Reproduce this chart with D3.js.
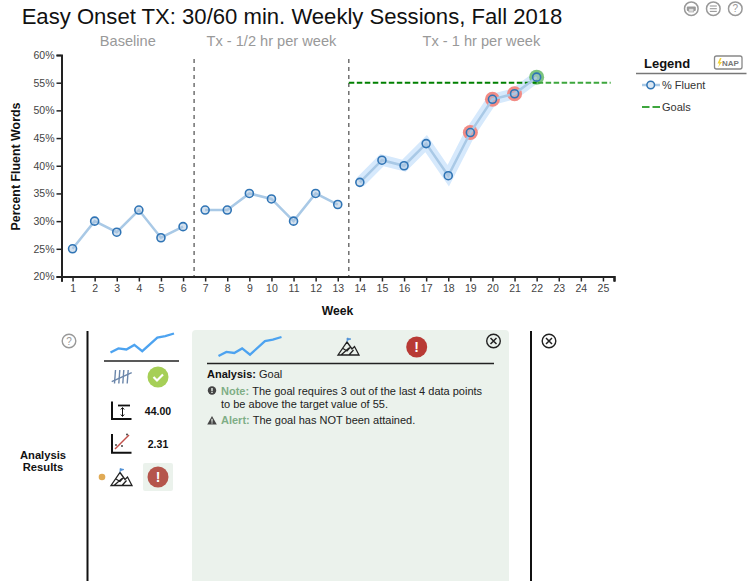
<!DOCTYPE html>
<html>
<head>
<meta charset="utf-8">
<script src="https://cdn.jsdelivr.net/npm/d3@7"></script>
<style>
  html, body { margin: 0; padding: 0; background: #fff; overflow: hidden; }
  svg { display: block; font-family: "Liberation Sans", Arial, sans-serif; }
</style>
</head>
<body>
<div id="chart"></div>
<script>
const weeks = d3.range(1, 26);
const yTicks = [20, 25, 30, 35, 40, 45, 50, 55, 60];

const baseline = [[1, 25], [2, 30], [3, 28], [4, 32], [5, 27], [6, 29]];
const halfHour = [[7, 32], [8, 32], [9, 35], [10, 34], [11, 30], [12, 35], [13, 33]];
const oneHour = [[14, 37], [15, 41], [16, 40], [17, 44], [18, 38.2], [19, 46], [20, 52], [21, 53], [22, 56]];

const goalMet = [22];
const goalMissed = [19, 20, 21];
const goalValue = 55;
const goalStart = 13.5;
const goalMid = 22;
const goalEnd = 25.35;

const phaseLines = [6.5, 13.5];
const phases = [
  { label: 'Baseline', week: 3.5 },
  { label: 'Tx - 1/2 hr per week', week: 10 },
  { label: 'Tx - 1 hr per week', week: 19.5 }
];

// little trend picture used in the analysis panel
const sparkline = [[0, 0], [1, 3], [2, 2.2], [3, 5.6], [4, 1], [5.9, 11], [6.9, 12], [8, 14]];

const svg = d3.select('#chart').append('svg')
  .attr('width', 752)
  .attr('height', 581);

const x = d3.scaleLinear().domain([0.5, 25.5]).range([61.5, 614]);
const y = d3.scaleLinear().domain([20, 60]).range([276.5, 55]);

const line = d3.line().x(d => x(d[0])).y(d => y(d[1]));

// title
svg.append('text')
  .attr('x', 292).attr('y', 24)
  .attr('text-anchor', 'middle')
  .attr('font-size', 22.1)
  .attr('fill', '#111')
  .text('Easy Onset TX: 30/60 min. Weekly Sessions, Fall 2018');

svg.selectAll('.phase-label').data(phases)
  .join('text')
  .attr('class', 'phase-label')
  .attr('x', d => x(d.week))
  .attr('y', 45.5)
  .attr('text-anchor', 'middle')
  .attr('font-size', 14.6)
  .attr('fill', '#999')
  .text(d => d.label);

// axes
const xAxis = svg.append('g')
  .attr('transform', 'translate(0,276.5)')
  .call(d3.axisBottom(x).tickValues(weeks).tickSize(5).tickPadding(3).tickFormat(d3.format('d')));
const xEnds = svg.append('g')
  .attr('transform', 'translate(0,276.5)')
  .call(d3.axisBottom(x).tickValues([0.5, 25.5]).tickSize(5).tickFormat(''));
const yAxis = svg.append('g')
  .attr('transform', 'translate(61.5,0)')
  .call(d3.axisLeft(y).tickValues(yTicks).tickSize(5).tickPadding(2).tickFormat(d => d + '%'));

[xAxis, xEnds, yAxis].forEach(a => {
  a.select('.domain').attr('stroke', '#222').attr('stroke-width', 2);
  a.selectAll('.tick line').attr('stroke', '#222').attr('stroke-width', 1.5);
  a.selectAll('text').attr('font-size', 10.5).attr('fill', '#444')
    .attr('font-family', '"Liberation Sans", Arial, sans-serif');
});

svg.append('text')
  .attr('transform', 'translate(20,166.5) rotate(-90)')
  .attr('text-anchor', 'middle')
  .attr('font-size', 12.4)
  .attr('font-weight', 'bold')
  .attr('fill', '#111')
  .text('Percent Fluent Words');

svg.append('text')
  .attr('x', 337.5).attr('y', 315)
  .attr('text-anchor', 'middle')
  .attr('font-size', 12.2)
  .attr('font-weight', 'bold')
  .attr('fill', '#111')
  .text('Week');

// phase change lines
svg.selectAll('.phase-line').data(phaseLines)
  .join('line')
  .attr('class', 'phase-line')
  .attr('x1', d => x(d)).attr('x2', d => x(d))
  .attr('y1', 59).attr('y2', 276)
  .attr('stroke', '#666')
  .attr('stroke-width', 1.4)
  .attr('stroke-dasharray', '4 4');

// highlighted stretch under the last phase
svg.append('path')
  .datum(oneHour)
  .attr('d', line)
  .attr('fill', 'none')
  .attr('stroke', '#d6e9fc')
  .attr('stroke-width', 11);

// goal halos go under the goal line
svg.selectAll('.halo-miss').data(oneHour.filter(d => goalMissed.includes(d[0])))
  .join('circle')
  .attr('class', 'halo-miss')
  .attr('cx', d => x(d[0])).attr('cy', d => y(d[1]))
  .attr('r', 7.5)
  .attr('fill', '#f28b85');
svg.selectAll('.halo-met').data(oneHour.filter(d => goalMet.includes(d[0])))
  .join('circle')
  .attr('class', 'halo-met')
  .attr('cx', d => x(d[0])).attr('cy', d => y(d[1]))
  .attr('r', 7.5)
  .attr('fill', '#7cc47e');

// goal line, darker up to the last session
svg.append('line')
  .attr('x1', x(goalStart)).attr('x2', x(goalMid))
  .attr('y1', y(goalValue)).attr('y2', y(goalValue))
  .attr('stroke', '#008000')
  .attr('stroke-width', 2)
  .attr('stroke-dasharray', '5.5 2.5');
svg.append('line')
  .attr('x1', x(goalMid) + 1).attr('x2', x(goalEnd))
  .attr('y1', y(goalValue)).attr('y2', y(goalValue))
  .attr('stroke', '#3da63d')
  .attr('stroke-width', 2)
  .attr('stroke-dasharray', '5.5 2.5');

// data lines and points
[baseline, halfHour, oneHour].forEach(s => {
  svg.append('path')
    .datum(s)
    .attr('d', line)
    .attr('fill', 'none')
    .attr('stroke', '#a9c9e6')
    .attr('stroke-width', 2.5);
  svg.selectAll(null).data(s)
    .join('circle')
    .attr('cx', d => x(d[0])).attr('cy', d => y(d[1]))
    .attr('r', 4)
    .attr('fill', '#a9c4de')
    .attr('fill-opacity', 0.5)
    .attr('stroke', '#2f74b5')
    .attr('stroke-width', 1.6);
});

// toolbar icons, top right
function circleIcon(cx, cy, label, fill) {
  svg.append('circle')
    .attr('cx', cx).attr('cy', cy).attr('r', 6.8)
    .attr('fill', 'none').attr('stroke', '#999').attr('stroke-width', 1.5);
  if (label) {
    svg.append('text')
      .attr('x', cx).attr('y', cy + 3.5)
      .attr('text-anchor', 'middle')
      .attr('font-size', 10)
      .attr('fill', fill)
      .text(label);
  }
}
circleIcon(691.3, 8.7, null);
svg.append('rect').attr('x', 686.8).attr('y', 6.5).attr('width', 9).attr('height', 4.5)
  .attr('rx', 1).attr('fill', '#999');
svg.append('rect').attr('x', 688.8).attr('y', 8.5).attr('width', 5).attr('height', 3.5)
  .attr('fill', '#ddd').attr('stroke', '#999').attr('stroke-width', 0.6);
circleIcon(713.3, 8.7, null);
[6, 8.7, 11.4].forEach(d => {
  svg.append('line').attr('x1', 709.8).attr('x2', 716.8).attr('y1', d).attr('y2', d)
    .attr('stroke', '#999').attr('stroke-width', 1.1);
});
circleIcon(735.3, 8.7, '?', '#999');

// legend
svg.append('text')
  .attr('x', 644).attr('y', 67.5)
  .attr('font-size', 13).attr('font-weight', 'bold').attr('fill', '#111')
  .text('Legend');
svg.append('rect')
  .attr('x', 714.5).attr('y', 56)
  .attr('width', 27.5).attr('height', 13).attr('rx', 2)
  .attr('fill', '#fff').attr('stroke', '#888').attr('stroke-width', 1.3);
svg.append('path')
  .attr('d', 'M720 58 L717.5 63.5 L719.5 63.5 L718 67.5 L722 62 L720 62 L721.5 58 Z')
  .attr('fill', '#f2d43a');
svg.append('text')
  .attr('x', 722).attr('y', 66)
  .attr('font-size', 8).attr('font-weight', 'bold').attr('fill', '#777')
  .text('NAP');
svg.append('line')
  .attr('x1', 636).attr('x2', 746.5).attr('y1', 73.5).attr('y2', 73.5)
  .attr('stroke', '#777').attr('stroke-width', 1.3);

svg.append('line')
  .attr('x1', 642).attr('x2', 660).attr('y1', 85).attr('y2', 85)
  .attr('stroke', '#a9c9e6').attr('stroke-width', 2.5);
svg.append('circle')
  .attr('cx', 650.7).attr('cy', 85).attr('r', 3.8)
  .attr('fill', '#dbe7f2').attr('stroke', '#2f74b5').attr('stroke-width', 1.5);
svg.append('text')
  .attr('x', 662).attr('y', 89)
  .attr('font-size', 11).attr('fill', '#333')
  .text('% Fluent');
svg.append('line')
  .attr('x1', 642).attr('x2', 660).attr('y1', 107).attr('y2', 107)
  .attr('stroke', '#3da63d').attr('stroke-width', 2)
  .attr('stroke-dasharray', '7.5 3');
svg.append('text')
  .attr('x', 662).attr('y', 111)
  .attr('font-size', 11).attr('fill', '#333')
  .text('Goals');

// analysis section
function helpIcon(cx, cy) {
  svg.append('circle')
    .attr('cx', cx).attr('cy', cy).attr('r', 6.8)
    .attr('fill', 'none').attr('stroke', '#999').attr('stroke-width', 1.4);
  svg.append('text')
    .attr('x', cx).attr('y', cy + 3.5)
    .attr('text-anchor', 'middle')
    .attr('font-size', 10).attr('fill', '#999')
    .text('?');
}
helpIcon(69, 341);

svg.selectAll('.section-title').data(['Analysis', 'Results'])
  .join('text')
  .attr('class', 'section-title')
  .attr('x', 43)
  .attr('y', (d, i) => 459 + i * 12)
  .attr('text-anchor', 'middle')
  .attr('font-size', 11.2)
  .attr('font-weight', 'bold')
  .attr('fill', '#111')
  .text(d => d);

[87.5, 531].forEach(d => {
  svg.append('line')
    .attr('x1', d).attr('x2', d).attr('y1', 331).attr('y2', 581)
    .attr('stroke', '#111').attr('stroke-width', 2);
});

svg.append('path')
  .attr('d', 'M192 581 V334 Q192 330 196 330 H505 Q509 330 509 334 V581 Z')
  .attr('fill', '#ebf2ec');

function drawSpark(x0, x1, y0, y1) {
  const sx = d3.scaleLinear().domain([0, 8]).range([x0, x1]);
  const sy = d3.scaleLinear().domain([0, 14]).range([y0, y1]);
  svg.append('path')
    .datum(sparkline)
    .attr('d', d3.line().x(d => sx(d[0])).y(d => sy(d[1])))
    .attr('fill', 'none')
    .attr('stroke', '#4da3f0')
    .attr('stroke-width', 2.3);
}
drawSpark(110.5, 174, 352.5, 333.5);
drawSpark(218.5, 281.5, 356, 337);

svg.append('line').attr('x1', 104).attr('x2', 179).attr('y1', 361).attr('y2', 361)
  .attr('stroke', '#222').attr('stroke-width', 1.5);
svg.append('line').attr('x1', 207).attr('x2', 494).attr('y1', 363.5).attr('y2', 363.5)
  .attr('stroke', '#222').attr('stroke-width', 1.5);

// tally marks
[115, 119.3, 123.3, 127.7].forEach(d => {
  svg.append('line').attr('x1', d + 0.5).attr('x2', d - 0.5).attr('y1', 370).attr('y2', 383.5)
    .attr('stroke', '#6b86aa').attr('stroke-width', 1.4);
});
svg.append('line').attr('x1', 111.7).attr('x2', 131.7).attr('y1', 381.7).attr('y2', 372.7)
  .attr('stroke', '#6b86aa').attr('stroke-width', 1.4);

// check badge
svg.append('circle').attr('cx', 158).attr('cy', 377).attr('r', 10.5).attr('fill', '#a6cf57');
svg.append('path')
  .attr('d', 'M153.5 377 L157 380.5 L163 374.5')
  .attr('fill', 'none').attr('stroke', '#fff').attr('stroke-width', 2.2);

// level icon
svg.append('path')
  .attr('d', 'M112 401.5 V419 H131.5')
  .attr('fill', 'none').attr('stroke', '#111').attr('stroke-width', 2);
svg.append('path')
  .attr('d', 'M118 405.5 H130')
  .attr('fill', 'none').attr('stroke', '#111').attr('stroke-width', 1.8);
svg.append('path')
  .attr('d', 'M122.5 408 V416 M120.8 409.5 L122.5 407.5 L124.2 409.5 M120.8 414.5 L122.5 416.5 L124.2 414.5')
  .attr('fill', 'none').attr('stroke', '#111').attr('stroke-width', 1);
svg.append('text')
  .attr('x', 158).attr('y', 415)
  .attr('text-anchor', 'middle')
  .attr('font-size', 10.5).attr('font-weight', 'bold').attr('fill', '#111')
  .text('44.00');

// trend icon
svg.append('path')
  .attr('d', 'M112 434 V452.7 H131.5')
  .attr('fill', 'none').attr('stroke', '#111').attr('stroke-width', 2);
svg.append('line').attr('x1', 115).attr('x2', 129).attr('y1', 449).attr('y2', 435)
  .attr('stroke', '#c2504a').attr('stroke-width', 1.5);
svg.append('circle').attr('cx', 116).attr('cy', 445).attr('r', 0.9).attr('fill', '#333');
svg.append('circle').attr('cx', 122).attr('cy', 446).attr('r', 0.9).attr('fill', '#333');
svg.append('circle').attr('cx', 127).attr('cy', 434.5).attr('r', 0.9).attr('fill', '#333');
svg.append('text')
  .attr('x', 158).attr('y', 448)
  .attr('text-anchor', 'middle')
  .attr('font-size', 10.5).attr('font-weight', 'bold').attr('fill', '#111')
  .text('2.31');

// goal row
function mountain(ox, oy) {
  const g = svg.append('g').attr('transform', `translate(${ox},${oy})`);
  g.append('path')
    .attr('d', 'M0 16 L9 3 L14 10 L16.5 7.5 L21 16 Z M5 9.5 L9 12 L12 8.5 M3 16 L11 9 M11 16 L15.5 11')
    .attr('fill', 'none').attr('stroke', '#222').attr('stroke-width', 1.3);
  g.append('path').attr('d', 'M9 3 V-1 L13 0 L9 1.5').attr('fill', '#4d8fd6').attr('stroke', '#4d8fd6').attr('stroke-width', 0.7);
}
svg.append('circle').attr('cx', 102).attr('cy', 477).attr('r', 3.3).attr('fill', '#e0aa55');
mountain(111, 469.5);
svg.append('rect').attr('x', 143).attr('y', 463).attr('width', 30).attr('height', 28)
  .attr('rx', 2).attr('fill', '#ebf2ec');

function alertBadge(cx, cy, color) {
  svg.append('circle').attr('cx', cx).attr('cy', cy).attr('r', 10.5).attr('fill', color);
  svg.append('text')
    .attr('x', cx).attr('y', cy + 5)
    .attr('text-anchor', 'middle')
    .attr('font-size', 14).attr('font-weight', 'bold').attr('fill', '#fff')
    .text('!');
}
alertBadge(158, 477, '#b5554c');
alertBadge(416.7, 347, '#b83a35');
mountain(338, 339);

function closeIcon(cx, cy) {
  svg.append('circle').attr('cx', cx).attr('cy', cy).attr('r', 6.8)
    .attr('fill', 'none').attr('stroke', '#222').attr('stroke-width', 1.4);
  svg.append('path')
    .attr('d', `M${cx - 3} ${cy - 3} L${cx + 3} ${cy + 3} M${cx + 3} ${cy - 3} L${cx - 3} ${cy + 3}`)
    .attr('stroke', '#222').attr('stroke-width', 1.5);
}
closeIcon(493.5, 341);
closeIcon(549, 341);

// analysis text
const analysis = svg.append('g').attr('font-size', 11).attr('fill', '#222');
const a1 = analysis.append('text').attr('x', 207).attr('y', 378);
a1.append('tspan').attr('font-weight', 'bold').attr('fill', '#111').text('Analysis: ');
a1.append('tspan').text('Goal');

svg.append('circle').attr('cx', 212).attr('cy', 390.5).attr('r', 4.2).attr('fill', '#444');
svg.append('rect').attr('x', 211.3).attr('y', 388).attr('width', 1.4).attr('height', 3).attr('fill', '#ebf2ec');
svg.append('rect').attr('x', 211.3).attr('y', 391.7).attr('width', 1.4).attr('height', 1.3).attr('fill', '#ebf2ec');

const a2 = analysis.append('text').attr('x', 221).attr('y', 394.5);
a2.append('tspan').attr('font-weight', 'bold').attr('fill', '#7fae86').text('Note: ');
a2.append('tspan').text('The goal requires 3 out of the last 4 data points');
analysis.append('text').attr('x', 221).attr('y', 408).text('to be above the target value of 55.');

svg.append('path').attr('d', 'M212 416 L216.8 424.5 H207.2 Z').attr('fill', '#444');
svg.append('rect').attr('x', 211.4).attr('y', 418.8).attr('width', 1.2).attr('height', 3).attr('fill', '#ebf2ec');
svg.append('rect').attr('x', 211.4).attr('y', 422.4).attr('width', 1.2).attr('height', 1.1).attr('fill', '#ebf2ec');

const a3 = analysis.append('text').attr('x', 221).attr('y', 424);
a3.append('tspan').attr('font-weight', 'bold').attr('fill', '#7fae86').text('Alert: ');
a3.append('tspan').text('The goal has NOT been attained.');
</script>
</body>
</html>
